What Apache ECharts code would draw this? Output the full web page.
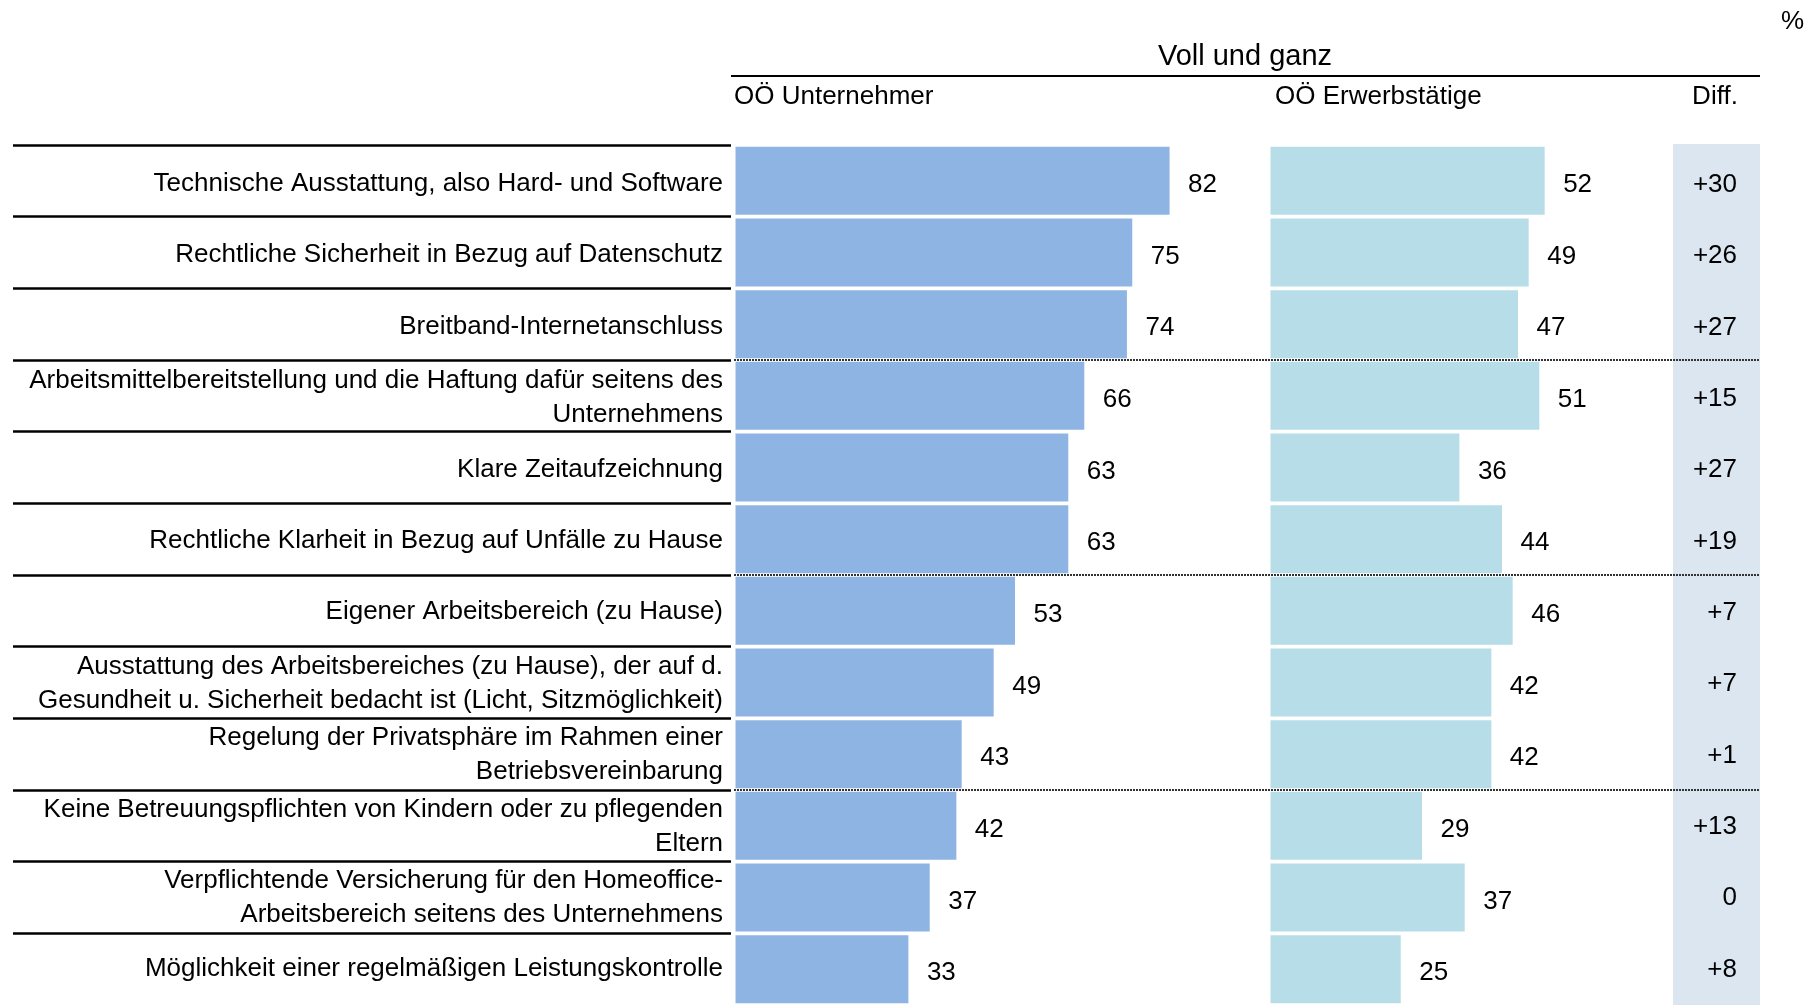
<!DOCTYPE html>
<html>
<head>
<meta charset="utf-8">
<script src="https://cdn.jsdelivr.net/npm/echarts@6/dist/echarts.min.js"></script>
<style>
html,body{margin:0;padding:0;background:#fff;}
#chart{width:1816px;height:1005px;}
</style>
</head>
<body>
<div id="chart"></div>
<script>
const categories = [
  "Technische Ausstattung, also Hard- und Software",
  "Rechtliche Sicherheit in Bezug auf Datenschutz",
  "Breitband-Internetanschluss",
  "Arbeitsmittelbereitstellung und die Haftung dafür seitens des\nUnternehmens",
  "Klare Zeitaufzeichnung",
  "Rechtliche Klarheit in Bezug auf Unfälle zu Hause",
  "Eigener Arbeitsbereich (zu Hause)",
  "Ausstattung des Arbeitsbereiches (zu Hause), der auf d.\nGesundheit u. Sicherheit bedacht ist (Licht, Sitzmöglichkeit)",
  "Regelung der Privatsphäre im Rahmen einer\nBetriebsvereinbarung",
  "Keine Betreuungspflichten von Kindern oder zu pflegenden\nEltern",
  "Verpflichtende Versicherung für den Homeoffice-\nArbeitsbereich seitens des Unternehmens",
  "Möglichkeit einer regelmäßigen Leistungskontrolle"
];
const unternehmer = [82, 75, 74, 66, 63, 63, 53, 49, 43, 42, 37, 33];
const erwerbstaetige = [52, 49, 47, 51, 36, 44, 46, 42, 42, 29, 37, 25];
const diff = [30, 26, 27, 15, 27, 19, 7, 7, 1, 13, 0, 8];
const groupBreaks = [3, 6, 9];
const headerTitle = "Voll und ganz";
const seriesNames = ["OÖ Unternehmer", "OÖ Erwerbstätige"];
const diffTitle = "Diff.";
const unitLabel = "%";

const FONT = "'Liberation Sans', Arial, sans-serif";
const FS = 26;
const fmtDiff = d => d > 0 ? "+" + d : String(d);

const chart = echarts.init(document.getElementById('chart'), null, {renderer: 'canvas'});
const TOP = 145, H = 860, SHIFT = 3;

const option = {
  backgroundColor: '#fff',
  animation: false,
  textStyle: {fontFamily: FONT},
  grid: [
    {left: 13, top: TOP, width: 718, height: H},                      // 0 label lines
    {left: 734, top: TOP, width: 533, height: H},                     // 1 left bars
    {left: 1269, top: TOP, width: 533, height: H},                    // 2 right bars
    {left: 1673, top: TOP - 1, width: 87, height: H + 1, show: true, backgroundColor: '#dce6f1', borderWidth: 0}, // 3 diff bg
    {left: 734, top: TOP, width: 1026, height: H},                    // 4 dotted overlay
    {left: 734, top: TOP + SHIFT, width: 533, height: H},             // 5 category labels
    {left: 1673, top: TOP + SHIFT + 1, width: 87, height: H}          // 6 diff labels
  ],
  xAxis: [
    {gridIndex: 0, type: 'value', show: false, min: 0, max: 1},
    {gridIndex: 1, type: 'value', show: false, min: 0, max: 100},
    {gridIndex: 2, type: 'value', show: false, min: 0, max: 100},
    {gridIndex: 3, type: 'value', show: false, min: 0, max: 1},
    {gridIndex: 4, type: 'value', show: false, min: 0, max: 1},
    {gridIndex: 5, type: 'value', show: false, min: 0, max: 1},
    {gridIndex: 6, type: 'value', show: false, min: 0, max: 1}
  ],
  yAxis: [
    {gridIndex: 0, type: 'category', data: categories, inverse: true,
     axisLine: {show: false}, axisTick: {show: false}, axisLabel: {show: false},
     splitLine: {show: true, showMaxLine: false, lineStyle: {color: '#000', width: 2.5}}},
    {gridIndex: 1, type: 'category', data: categories, inverse: true, show: false},
    {gridIndex: 2, type: 'category', data: categories, inverse: true, show: false},
    {gridIndex: 3, type: 'category', data: categories, inverse: true, show: false},
    {gridIndex: 4, type: 'value', show: false, min: 0, max: categories.length, inverse: true},
    {gridIndex: 5, type: 'category', data: categories, inverse: true,
     axisLine: {show: false}, axisTick: {show: false}, splitLine: {show: false},
     axisLabel: {interval: 0, margin: 11, fontSize: FS, lineHeight: 34, color: '#000', fontFamily: FONT}},
    {gridIndex: 6, type: 'category', data: categories, inverse: true, position: 'right',
     axisLine: {show: false}, axisTick: {show: false}, splitLine: {show: false},
     axisLabel: {interval: 0, inside: true, margin: 23, fontSize: FS, color: '#000', fontFamily: FONT,
       formatter: (v, i) => fmtDiff(diff[i])}}
  ],
  series: [
    {
      type: 'line', xAxisIndex: 4, yAxisIndex: 4, data: [[0, 0]], showSymbol: false, symbol: 'none',
      lineStyle: {width: 0}, z: 1, silent: true,
      markLine: {
        silent: true, symbol: 'none', label: {show: false},
        lineStyle: {color: '#333', type: [2, 1], width: 2},
        data: groupBreaks.map(b => ({yAxis: b}))
      }
    },
    {
      name: seriesNames[0], type: 'bar', xAxisIndex: 1, yAxisIndex: 1, data: unternehmer,
      barCategoryGap: '1%', z: 3,
      itemStyle: {color: '#8db4e2', borderColor: '#fff', borderWidth: 1.5},
      label: {show: true, position: 'right', distance: 17, offset: [0, 4], fontSize: FS, color: '#000', fontFamily: FONT}
    },
    {
      name: seriesNames[1], type: 'bar', xAxisIndex: 2, yAxisIndex: 2, data: erwerbstaetige,
      barCategoryGap: '1%', z: 3,
      itemStyle: {color: '#b7dde8', borderColor: '#fff', borderWidth: 1.5},
      label: {show: true, position: 'right', distance: 17, offset: [0, 4], fontSize: FS, color: '#000', fontFamily: FONT}
    }
  ],
  graphic: [
    {type: 'text', x: 1781, y: 22, style: {text: unitLabel, fontSize: FS, fontFamily: FONT, fill: '#000', textVerticalAlign: 'middle'}},
    {type: 'text', x: 1245, y: 57, style: {text: headerTitle, fontSize: 29, fontFamily: FONT, fill: '#000', textAlign: 'center', textVerticalAlign: 'middle'}},
    {type: 'line', shape: {x1: 731, y1: 76, x2: 1760, y2: 76}, style: {stroke: '#000', lineWidth: 2}},
    {type: 'text', x: 734, y: 97, style: {text: seriesNames[0], fontSize: FS, fontFamily: FONT, fill: '#000', textVerticalAlign: 'middle'}},
    {type: 'text', x: 1275, y: 97, style: {text: seriesNames[1], fontSize: FS, fontFamily: FONT, fill: '#000', textVerticalAlign: 'middle'}},
    {type: 'text', x: 1715, y: 97, style: {text: diffTitle, fontSize: FS, fontFamily: FONT, fill: '#000', textAlign: 'center', textVerticalAlign: 'middle'}}
  ]
};
chart.setOption(option);
</script>
</body>
</html>
